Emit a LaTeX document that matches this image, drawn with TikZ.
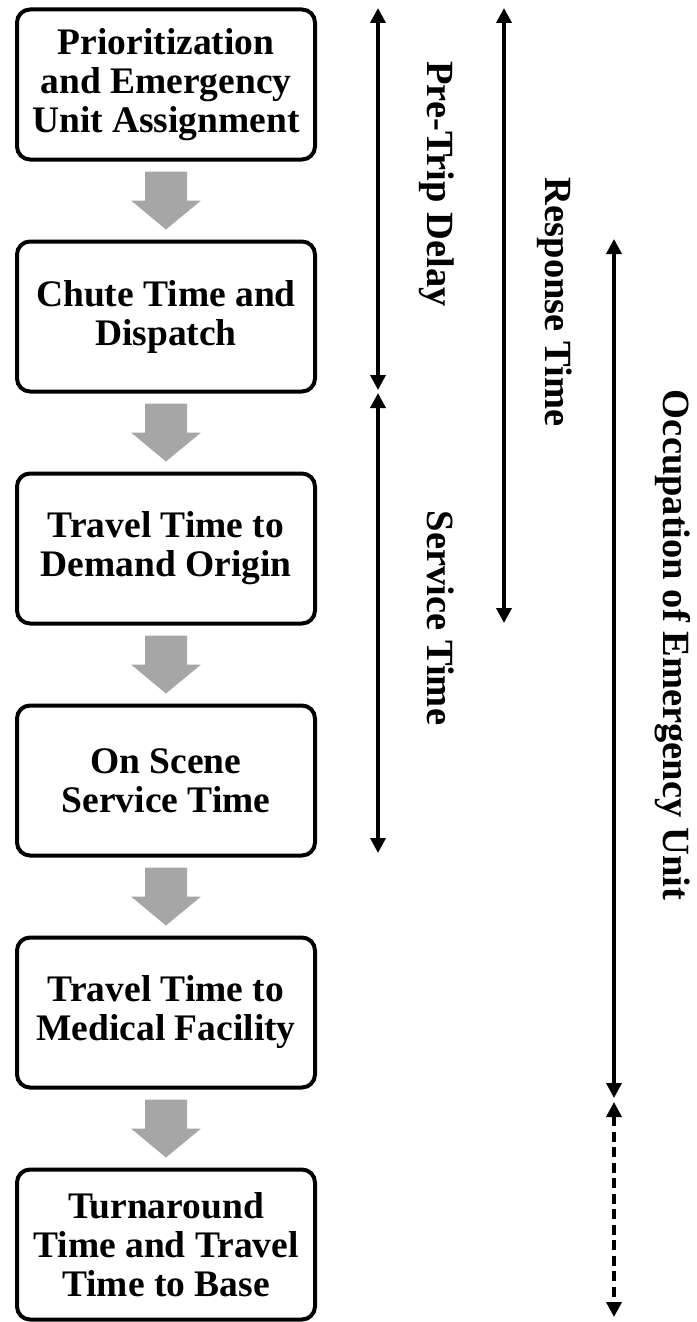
\documentclass[tikz,border=0pt]{standalone}
\usepackage{fontspec}
\setmainfont{Liberation Serif}
\usetikzlibrary{arrows.meta,positioning,calc}
\definecolor{flowgray}{RGB}{166,166,166}

\begin{document}
\begin{tikzpicture}[
  x=1pt, y=-1pt,
  node distance=78pt,
  stage/.style={rectangle, draw, line width=4pt, rounded corners=13pt, minimum width=298pt, minimum height=150pt, inner sep=0pt, align=center, font=\fontsize{37.5}{39}\selectfont\bfseries},
  flow/.style={fill=flowgray},
  span/.style={{Triangle[width=15pt,length=15pt]}-{Triangle[width=15pt,length=15pt]}, line width=3.5pt},
  spanlabel/.style={rotate=-90, anchor=base, font=\fontsize{38.5}{40}\selectfont\bfseries}
]
\useasboundingbox (0,0) rectangle (696,1322);

% stages of the call
\node[stage] (prio) at (166,84.5) {Prioritization\\and Emergency\\Unit Assignment};
\node[stage, below=of prio] (chute) {Chute Time and\\Dispatch};
\node[stage, below=of chute] (demand) {Travel Time to\\Demand Origin};
\node[stage, below=of demand] (scene) {On Scene\\Service Time};
\node[stage, below=of scene] (medical) {Travel Time to\\Medical Facility};
\node[stage, below=of medical] (base) {Turnaround\\Time and Travel\\Time to Base};

\foreach \a/\b in {prio/chute, chute/demand, demand/scene, scene/medical, medical/base} {
  \coordinate (mid) at ($(\a.south)!0.5!(\b.north)$);
  \fill[flow] ($(mid)+(-21,-29)$) -- ++(42,0) -- ++(0,29) -- ++(14,0) -- ++(-35,29) -- ++(-35,-29) -- ++(14,0) -- cycle;
}

% time spans
\coordinate (pd1) at (378,8);
\coordinate (pd2) at (378,390);
\coordinate (st1) at (378,393);
\coordinate (st2) at (378,853);
\coordinate (rt1) at (504,8);
\coordinate (rt2) at (504,623);
\coordinate (oc1) at (614,239);
\coordinate (oc2) at (614,1098);
\coordinate (rb1) at (614,1102);
\coordinate (rb2) at (614,1317);

\draw[span] (pd1) -- (pd2);
\draw[span] (st1) -- (st2);
\draw[span] (rt1) -- (rt2);
\draw[span] (oc1) -- (oc2);
\draw[span, dash pattern=on 10pt off 5.5pt] (rb1) -- (rb2);

\node[spanlabel] (pdlabel) at (427,184) {Pre-Trip Delay};
\node[spanlabel] (stlabel) at (427,618) {Service Time};
\node[spanlabel] (rtlabel) at (545,302) {Response Time};
\node[spanlabel] (oclabel) at (663,645) {Occupation of Emergency Unit};
\end{tikzpicture}
\end{document}
